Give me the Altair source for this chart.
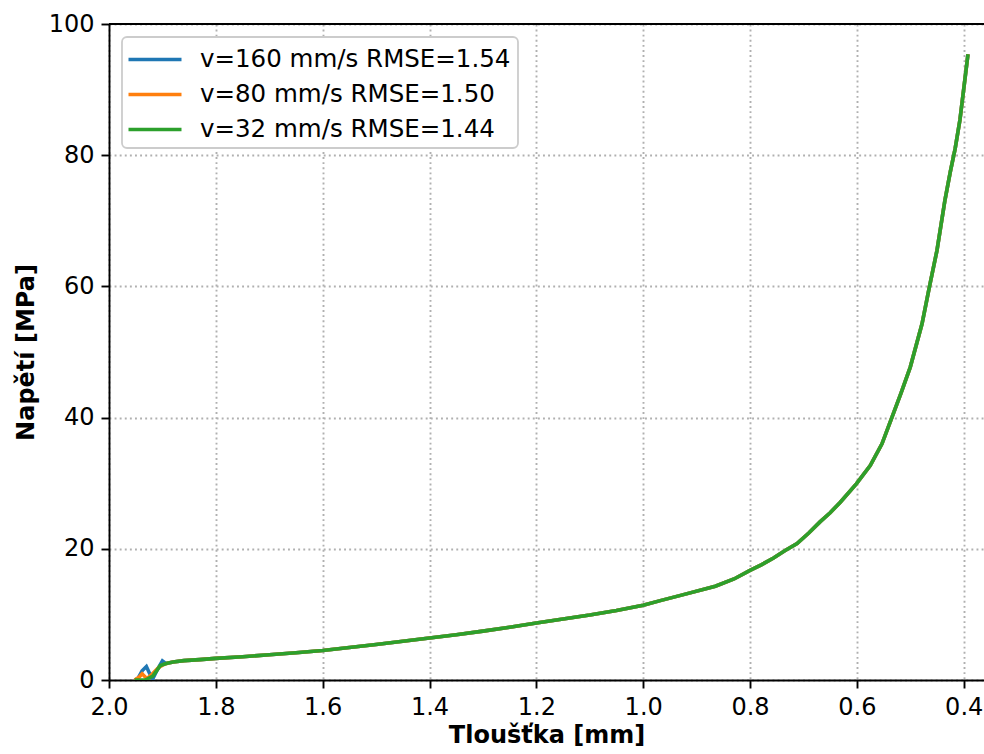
import altair as alt
import pandas as pd

labels = ["v=160 mm/s RMSE=1.54", "v=80 mm/s RMSE=1.50", "v=32 mm/s RMSE=1.44"]
colors = ["#1f77b4", "#ff7f0e", "#2ca02c"]

# shared body of the curve (thickness mm, stress MPa)
body_x = [1.891, 1.88, 1.86, 1.83, 1.80, 1.75, 1.70, 1.65, 1.60, 1.55, 1.50, 1.45, 1.40,
          1.35, 1.30, 1.25, 1.20, 1.15, 1.10, 1.05, 1.00, 0.968, 0.93, 0.865, 0.83, 0.80,
          0.778, 0.756, 0.735, 0.712, 0.69, 0.669, 0.65, 0.631, 0.601, 0.575, 0.553, 0.534,
          0.517, 0.50, 0.478, 0.464, 0.450, 0.435, 0.425, 0.416, 0.407, 0.392]
body_y = [2.55, 2.75, 2.95, 3.1, 3.3, 3.55, 3.85, 4.15, 4.5, 4.95, 5.4, 5.9, 6.4,
          6.9, 7.45, 8.05, 8.7, 9.3, 9.9, 10.6, 11.4, 12.1, 12.9, 14.3, 15.4, 16.7,
          17.6, 18.6, 19.7, 20.8, 22.4, 24.1, 25.5, 27.1, 29.9, 32.7, 36.0, 40.1,
          43.8, 47.7, 54.3, 60.0, 65.5, 73.2, 77.5, 81.0, 85.4, 95.4]

# individual starts (oscillations at first contact)
start_x_160 = [1.952, 1.946, 1.938, 1.930, 1.924, 1.918, 1.910, 1.900, 1.895]
start_y_160 = [0.0, 0.2, 1.4, 2.05, 1.0, 0.2, 1.5, 2.9, 2.6]
start_x_80 = [1.952, 1.944, 1.938, 1.929, 1.919, 1.907, 1.899]
start_y_80 = [0.0, 0.4, 0.95, 0.2, 0.9, 1.9, 2.3]
start_x_32 = [1.952, 1.940, 1.932, 1.925, 1.918, 1.910, 1.904, 1.897]
start_y_32 = [0.0, 0.0, 0.0, 0.3, 0.6, 1.5, 2.2, 2.4]

starts = [(start_x_160, start_y_160), (start_x_80, start_y_80), (start_x_32, start_y_32)]

rows = []
for s, (lab, (sx, sy)) in enumerate(zip(labels, starts)):
    xs = sx + body_x
    ys = sy + body_y
    for i, (x, y) in enumerate(zip(xs, ys)):
        rows.append({"t": x, "s": y, "series": lab, "idx": i, "k": s})
df = pd.DataFrame(rows)

x_ticks = [2.0, 1.8, 1.6, 1.4, 1.2, 1.0, 0.8, 0.6, 0.4]
y_ticks = [0, 20, 40, 60, 80, 100]

font = "DejaVu Sans"
FS = 24
W, H = 875, 656

lines = alt.Chart(df).mark_line(strokeWidth=3.6, clip=True).encode(
    x=alt.X("t:Q", scale=alt.Scale(domain=[2.0, 0.362], nice=False, zero=False),
            axis=alt.Axis(values=x_ticks, format=".1f", title="Tloušťka [mm]",
                          labelFlush=False, labelPadding=7, titlePadding=4)),
    y=alt.Y("s:Q", scale=alt.Scale(domain=[0, 100], nice=False),
            axis=alt.Axis(values=y_ticks, title="Napětí [MPa]", labelFlush=False,
                          labelPadding=7, titlePadding=10)),
    color=alt.Color("series:N", scale=alt.Scale(domain=labels, range=colors),
                    legend=alt.Legend(title=None, orient="none", legendX=13, legendY=13,
                                      symbolType="M-2,0L2,0", symbolStrokeWidth=3.6,
                                      symbolSize=702, symbolOffset=10.5,
                                      labelFontSize=24.5, labelFont=font,
                                      labelColor="black", labelOffset=29.5, labelLimit=0,
                                      fillColor="white", strokeColor="#cccccc",
                                      cornerRadius=5, padding=7,
                                      rowPadding=8)),
    detail="k:N",
    order="idx:Q",
)

top_spine = alt.Chart(df).mark_rule(color="black", strokeWidth=1.9).encode(
    x=alt.value(0), x2=alt.value(W), y=alt.value(0)
)

chart = alt.layer(lines, top_spine).properties(
    width=W, height=H,
    padding={"left": 109, "top": 24, "right": 0, "bottom": 74},
    autosize="none",
).configure_view(
    strokeWidth=0
).configure_legend(
    strokeWidth=1.8
).configure_axis(
    labelFont=font, labelFontSize=FS, labelColor="black",
    titleFont=font, titleFontSize=FS, titleFontWeight="bold", titleColor="black",
    domainColor="black", domainWidth=1.9, tickColor="black", tickWidth=1.9, tickSize=8,
    grid=True, gridColor="#b0b0b0", gridDash=[1.9, 3.2], gridWidth=1.9,
)

chart.save("out.html", embed_options={"renderer": "svg", "actions": False})
